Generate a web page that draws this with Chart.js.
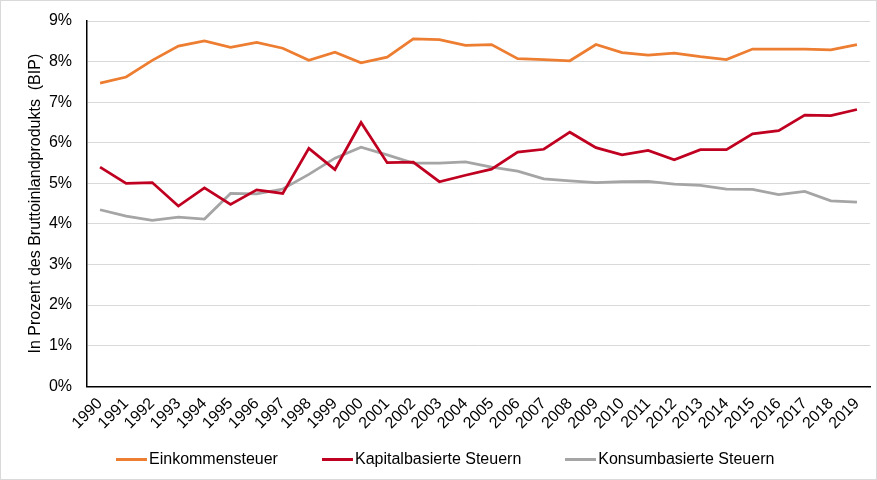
<!DOCTYPE html>
<html>
<head>
<meta charset="utf-8">
<script src="https://cdn.jsdelivr.net/npm/chart.js@4"></script>
<style>
  html, body { margin: 0; padding: 0; background: #fff; }
  #wrap { position: relative; width: 877px; height: 480px; box-sizing: border-box; border: 1px solid #d9d9d9; }
  #chart { position: absolute; left: 0; top: 0; }
  #legend { position: absolute; left: 115px; top: 449px; display: flex; font-family: "Liberation Sans", Arial, sans-serif; font-size: 16px; color: #000; }
  #legend .item { display: flex; align-items: center; margin-right: 44px; }
  #legend .mark { width: 31px; height: 3px; margin-right: 2px; }
</style>
</head>
<body>
<div id="wrap">
  <canvas id="chart" width="875" height="478"></canvas>
  <div id="legend"></div>
</div>
<script>
// Jahre und Werte in % des BIP
const years = ['1990','1991','1992','1993','1994','1995','1996','1997','1998','1999',
  '2000','2001','2002','2003','2004','2005','2006','2007','2008','2009',
  '2010','2011','2012','2013','2014','2015','2016','2017','2018','2019'];

const einkommen = [7.47, 7.62, 8.03, 8.38, 8.51, 8.35, 8.47, 8.33, 8.03, 8.23,
  7.97, 8.11, 8.56, 8.54, 8.40, 8.42, 8.07, 8.05, 8.02, 8.42,
  8.22, 8.16, 8.21, 8.12, 8.05, 8.31, 8.31, 8.31, 8.29, 8.42];

const kapital = [5.40, 5.00, 5.02, 4.44, 4.89, 4.48, 4.84, 4.75, 5.86, 5.34,
  6.50, 5.51, 5.52, 5.04, 5.20, 5.35, 5.77, 5.84, 6.26, 5.88,
  5.70, 5.81, 5.58, 5.83, 5.83, 6.22, 6.30, 6.68, 6.67, 6.82];

const konsum = [4.35, 4.19, 4.09, 4.17, 4.12, 4.75, 4.74, 4.86, 5.22, 5.62,
  5.89, 5.70, 5.50, 5.50, 5.53, 5.40, 5.30, 5.11, 5.06, 5.02,
  5.04, 5.05, 4.98, 4.95, 4.86, 4.85, 4.72, 4.80, 4.57, 4.54];

const seriesNames = ['Einkommensteuer', 'Kapitalbasierte Steuern', 'Konsumbasierte Steuern'];
const seriesColors = ['#ED7D31', '#C00020', '#A5A5A5'];

const font = { family: '"Liberation Sans", Arial, sans-serif', size: 16 };

const datasets = [einkommen, kapital, konsum].map((d, i) => ({
  label: seriesNames[i],
  data: d,
  borderColor: seriesColors[i],
  backgroundColor: seriesColors[i],
  borderWidth: 2.75,
  pointRadius: 0,
  tension: 0,
  fill: false
}));

new Chart(document.getElementById('chart'), {
  type: 'line',
  data: { labels: years, datasets: datasets },
  options: {
    responsive: false,
    animation: false,
    layout: { padding: { top: 20, right: 6, bottom: 38, left: 25 } },
    plugins: {
      legend: { display: false },
      tooltip: { enabled: false }
    },
    scales: {
      x: {
        offset: true,
        afterFit: s => { s.paddingRight = 0; s.paddingLeft = 0; },
        grid: { display: false, drawTicks: false },
        border: { color: '#000', width: 1.5 },
        ticks: { color: '#000', font: font, minRotation: 45, maxRotation: 45, autoSkip: false, padding: 8 }
      },
      y: {
        min: 0,
        max: 9,
        afterFit: s => { s.width = 61; s.paddingTop = 0; s.paddingBottom = 0; },
        grid: { color: '#d9d9d9', drawTicks: false },
        border: { color: '#000', width: 1.5 },
        ticks: { color: '#000', font: font, stepSize: 1, padding: 15, callback: v => v + '%' },
        title: { display: true, text: 'In Prozent des Bruttoinlandprodukts  (BIP)', color: '#000', font: { family: font.family, size: 16 }, padding: { top: 0, bottom: 4 } }
      }
    }
  }
});

// HTML-Legende
const legend = document.getElementById('legend');
seriesNames.forEach((name, i) => {
  const item = document.createElement('div');
  item.className = 'item';
  const mark = document.createElement('span');
  mark.className = 'mark';
  mark.style.background = seriesColors[i];
  const txt = document.createElement('span');
  txt.textContent = name;
  item.appendChild(mark);
  item.appendChild(txt);
  legend.appendChild(item);
});
</script>
</body>
</html>
